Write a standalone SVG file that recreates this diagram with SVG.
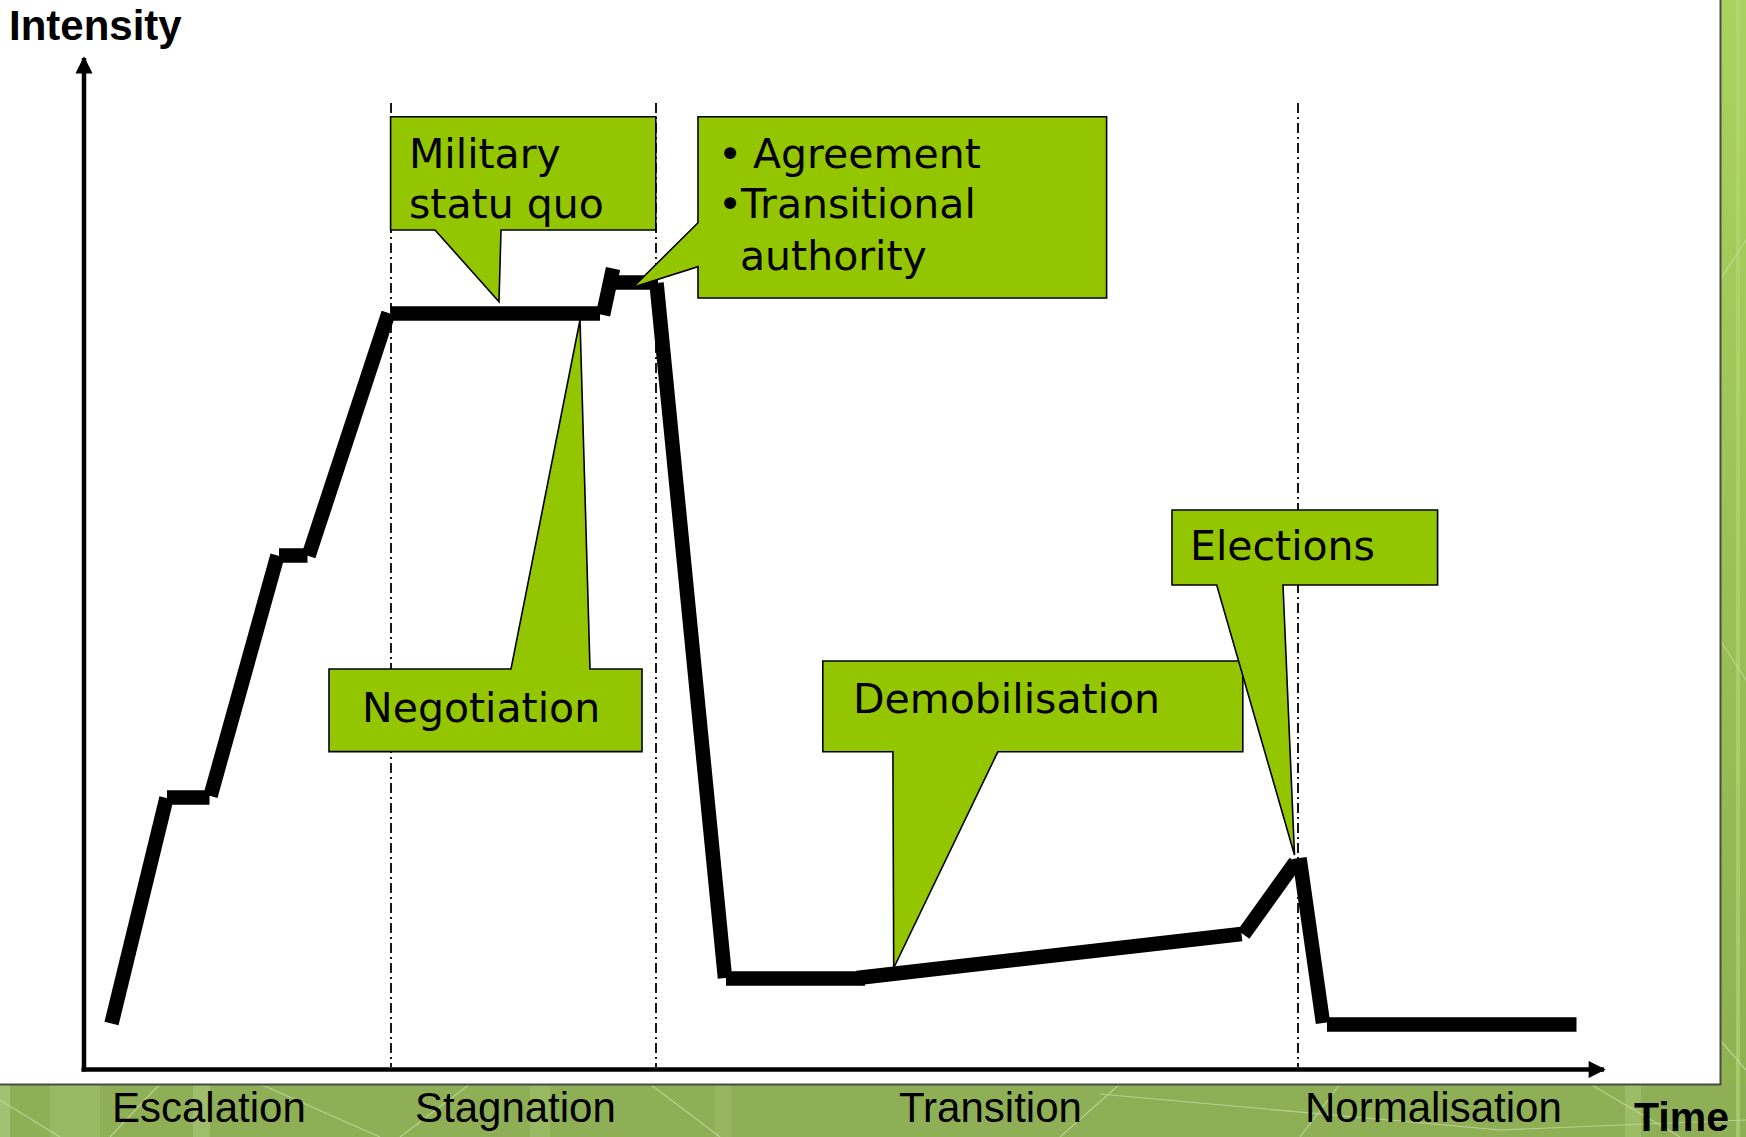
<svg xmlns="http://www.w3.org/2000/svg" width="1746" height="1137" viewBox="0 0 1746 1137">
  <defs>
    <linearGradient id="sideGrad" x1="0" y1="0" x2="0" y2="1">
      <stop offset="0" stop-color="#a9d35e"/>
      <stop offset="1" stop-color="#8db04f"/>
    </linearGradient>
    <marker id="arrowHead" viewBox="0 0 10 10" refX="9" refY="5" markerWidth="4" markerHeight="3.8" markerUnits="strokeWidth" orient="auto">
      <path d="M0,0 L10,5 L0,10 z" fill="#000"/>
    </marker>
  </defs>
  <style>
    .axis { stroke: #000; stroke-width: 4.5; fill: none; }
    .guide { stroke: #000; stroke-width: 1.8; stroke-dasharray: 10 4 2 4; fill: none; }
    .seg { stroke: #000; stroke-width: 14.5; stroke-linecap: butt; fill: none; }
    .callout { fill: #94c600; stroke: #000; stroke-width: 1.6; stroke-linejoin: miter; }
    .ctext { font-family: "DejaVu Sans", "Noto Sans", sans-serif; font-size: 41px; fill: #000; }
    .phase { font-family: "Liberation Sans", Arial, sans-serif; font-size: 42px; fill: #000; }
    .axlabel { font-family: "Liberation Sans", Arial, sans-serif; font-size: 42px; font-weight: bold; fill: #000; }
    .tex { stroke: #c9dfa6; stroke-width: 1.2; fill: none; opacity: 0.7; }
  </style>

  <!-- background -->
  <g id="background">
    <rect x="0" y="0" width="1746" height="1137" fill="#ffffff"/>
    <rect x="1720" y="0" width="26" height="1137" fill="url(#sideGrad)"/>
    <rect x="0" y="1084" width="1746" height="53" fill="#8faf56"/>
    <rect x="0" y="1084" width="10" height="53" fill="#a3c173"/>
    <rect x="50" y="1084" width="50" height="53" fill="#9ab965"/>
    <rect x="193" y="1084" width="17" height="53" fill="#9fbe6b"/>
    <rect x="530" y="1084" width="20" height="53" fill="#99b862"/>
    <rect x="715" y="1084" width="16" height="53" fill="#96b55e"/>
    <rect x="1625" y="1084" width="16" height="53" fill="#9dbc68"/>
    <rect x="1736" y="0" width="4" height="1137" fill="#b6d97a" opacity="0.6"/>
    <path class="tex" d="M0,1100 L60,1137 M110,1137 L160,1084 M260,1084 L380,1137 M400,1137 L470,1084 M650,1084 L720,1137 M1060,1137 L1120,1084 M1100,1094 L1500,1130 L1746,1120 M1300,1137 L1340,1084 M1590,1084 L1680,1137 M1720,280 L1746,240 M1720,1040 L1746,1070 M1720,640 L1746,680"/>
    <line x1="0" y1="1084.5" x2="1721" y2="1084.5" stroke="#4a4a4a" stroke-width="2"/>
    <line x1="1720.5" y1="0" x2="1720.5" y2="1085" stroke="#4a4a4a" stroke-width="2"/>
  </g>

  <!-- phase guides -->
  <g id="guides">
    <line class="guide" x1="391" y1="103" x2="391" y2="1067"/>
    <line class="guide" x1="656" y1="103" x2="656" y2="1067"/>
    <line class="guide" x1="1298" y1="103" x2="1298" y2="1067"/>
  </g>

  <!-- axes -->
  <g id="axes">
    <line class="axis" x1="84" y1="1071.5" x2="84" y2="58" marker-end="url(#arrowHead)"/>
    <line class="axis" x1="81.5" y1="1069.5" x2="1604" y2="1069.5" marker-end="url(#arrowHead)"/>
  </g>

  <!-- intensity curve (connectors) -->
  <g id="connectors">
    <line class="seg" x1="111.5" y1="1023.5" x2="166.5" y2="798"/>
    <line class="seg" x1="167" y1="797.5" x2="209.5" y2="797.5"/>
    <line class="seg" x1="210.5" y1="796" x2="277.5" y2="555.5"/>
    <line class="seg" x1="279" y1="555.5" x2="307.5" y2="555.5"/>
    <line class="seg" x1="308.5" y1="556" x2="388.5" y2="313"/>
    <line class="seg" x1="390.5" y1="313.5" x2="600" y2="313.5"/>
    <line class="seg" x1="603" y1="315" x2="613" y2="268.5"/>
    <line class="seg" x1="615" y1="282.5" x2="658" y2="282.5"/>
    <line class="seg" x1="656.5" y1="283" x2="725" y2="978"/>
    <line class="seg" x1="726" y1="978.5" x2="865" y2="978.5"/>
    <line class="seg" x1="857" y1="978" x2="1241.5" y2="934"/>
    <line class="seg" x1="1243.5" y1="934.5" x2="1295.5" y2="862"/>
    <line class="seg" x1="1299.5" y1="858" x2="1323" y2="1023"/>
    <line class="seg" x1="1327" y1="1024.5" x2="1576.5" y2="1024.5"/>
  </g>

  <!-- callouts -->
  <g id="military">
    <polygon class="callout" points="390.6,116.7 655.8,116.7 655.8,230 501,230 499,301.7 435,230 390.6,230"/>
    <text class="ctext" x="409" y="167.7">Military</text>
    <text class="ctext" x="409" y="218">statu quo</text>
  </g>
  <g id="agreement">
    <polygon class="callout" points="698,116.7 1106.6,116.7 1106.6,298 698,298 698,266.7 633,287.3 698,222.7"/>
    <text class="ctext" x="718" y="167.7">•</text>
    <text class="ctext" x="753" y="167.7">Agreement</text>
    <text class="ctext" x="718" y="218.3">•</text>
    <text class="ctext" x="741" y="218.3">Transitional</text>
    <text class="ctext" x="740" y="270">authority</text>
  </g>
  <g id="negotiation">
    <polygon class="callout" points="329,669 511,669 580,320 590,669 642,669 642,751.6 329,751.6"/>
    <text class="ctext" x="362" y="721.7">Negotiation</text>
  </g>
  <g id="demobilisation">
    <polygon class="callout" points="822.8,661 1242.8,661 1242.8,751.8 997.8,751.8 893.7,968 892.9,751.8 822.8,751.8"/>
    <text class="ctext" x="853" y="712.8">Demobilisation</text>
  </g>
  <g id="elections">
    <polygon class="callout" points="1172,510 1437.6,510 1437.6,585 1283,585 1294.5,855 1216.7,585 1172,585"/>
    <text class="ctext" x="1190" y="560.2">Elections</text>
  </g>

  <!-- axis and phase labels -->
  <g id="labels">
    <text class="axlabel" x="9" y="40">Intensity</text>
    <text class="axlabel" x="1634" y="1131" style="font-size:41px">Time</text>
    <text class="phase" x="112" y="1121.7">Escalation</text>
    <text class="phase" x="415" y="1121.7">Stagnation</text>
    <text class="phase" x="899" y="1121.7">Transition</text>
    <text class="phase" x="1305" y="1121.7">Normalisation</text>
  </g>
</svg>
